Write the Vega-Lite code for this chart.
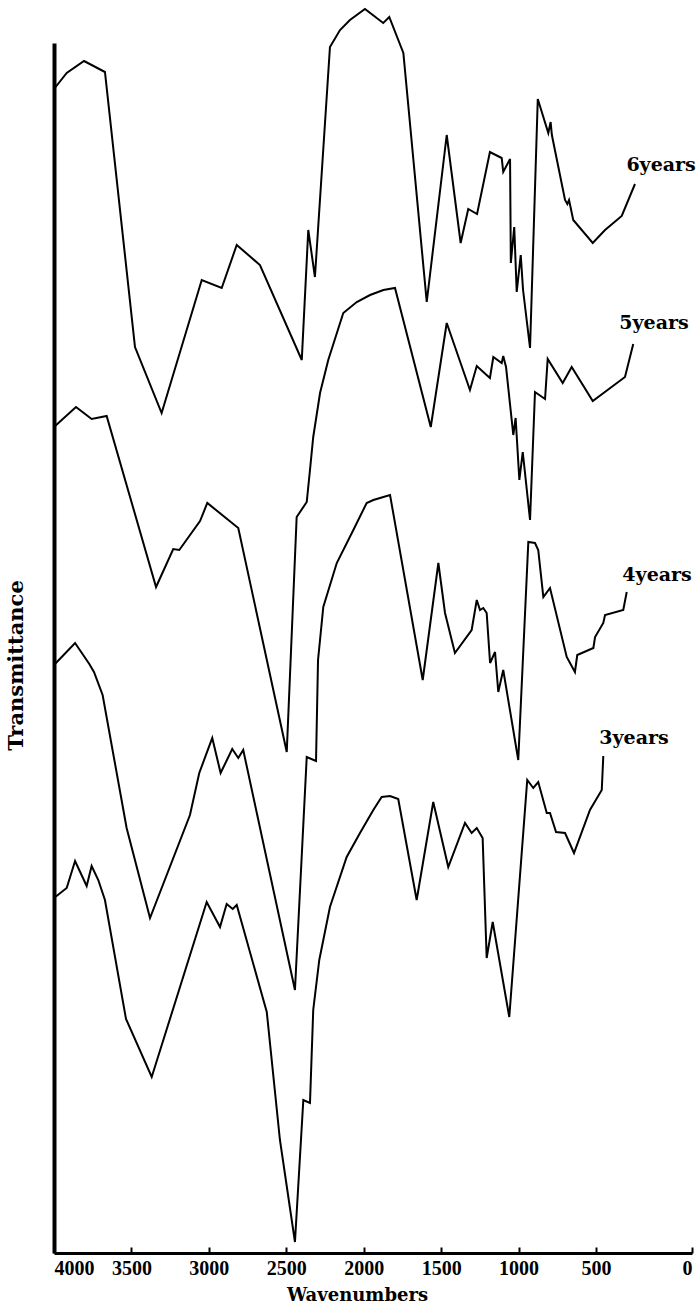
{
  "$schema": "https://vega.github.io/schema/vega-lite/v6.json",
  "width": 638,
  "height": 1210,
  "autosize": {"type": "none"},
  "padding": {"left": 54, "top": 43, "right": 7, "bottom": 52},
  "background": "white",
  "config": {"view": {"stroke": null}},
  "datasets": {
    "spectra": [
      {"series": "6years", "wavenumber": 4000, "transmittance": 1164},
      {"series": "6years", "wavenumber": 3918, "transmittance": 1180},
      {"series": "6years", "wavenumber": 3806, "transmittance": 1192},
      {"series": "6years", "wavenumber": 3671, "transmittance": 1181},
      {"series": "6years", "wavenumber": 3477, "transmittance": 906},
      {"series": "6years", "wavenumber": 3305, "transmittance": 840},
      {"series": "6years", "wavenumber": 3046, "transmittance": 973},
      {"series": "6years", "wavenumber": 2917, "transmittance": 965},
      {"series": "6years", "wavenumber": 2820, "transmittance": 1008},
      {"series": "6years", "wavenumber": 2670, "transmittance": 988},
      {"series": "6years", "wavenumber": 2400, "transmittance": 893},
      {"series": "6years", "wavenumber": 2358, "transmittance": 1023},
      {"series": "6years", "wavenumber": 2315, "transmittance": 976},
      {"series": "6years", "wavenumber": 2218, "transmittance": 1206},
      {"series": "6years", "wavenumber": 2153, "transmittance": 1223},
      {"series": "6years", "wavenumber": 2089, "transmittance": 1233},
      {"series": "6years", "wavenumber": 1992, "transmittance": 1244},
      {"series": "6years", "wavenumber": 1874, "transmittance": 1230},
      {"series": "6years", "wavenumber": 1835, "transmittance": 1236},
      {"series": "6years", "wavenumber": 1744, "transmittance": 1200},
      {"series": "6years", "wavenumber": 1593, "transmittance": 951},
      {"series": "6years", "wavenumber": 1464, "transmittance": 1118},
      {"series": "6years", "wavenumber": 1374, "transmittance": 1010},
      {"series": "6years", "wavenumber": 1325, "transmittance": 1044},
      {"series": "6years", "wavenumber": 1268, "transmittance": 1039},
      {"series": "6years", "wavenumber": 1185, "transmittance": 1101},
      {"series": "6years", "wavenumber": 1109, "transmittance": 1095},
      {"series": "6years", "wavenumber": 1099, "transmittance": 1081},
      {"series": "6years", "wavenumber": 1055, "transmittance": 1094},
      {"series": "6years", "wavenumber": 1050, "transmittance": 990},
      {"series": "6years", "wavenumber": 1028, "transmittance": 1026},
      {"series": "6years", "wavenumber": 1012, "transmittance": 961},
      {"series": "6years", "wavenumber": 986, "transmittance": 998},
      {"series": "6years", "wavenumber": 971, "transmittance": 963},
      {"series": "6years", "wavenumber": 926, "transmittance": 905},
      {"series": "6years", "wavenumber": 876, "transmittance": 1154},
      {"series": "6years", "wavenumber": 808, "transmittance": 1120},
      {"series": "6years", "wavenumber": 793, "transmittance": 1131},
      {"series": "6years", "wavenumber": 785, "transmittance": 1118},
      {"series": "6years", "wavenumber": 700, "transmittance": 1053},
      {"series": "6years", "wavenumber": 685, "transmittance": 1049},
      {"series": "6years", "wavenumber": 674, "transmittance": 1053},
      {"series": "6years", "wavenumber": 647, "transmittance": 1033},
      {"series": "6years", "wavenumber": 521, "transmittance": 1010},
      {"series": "6years", "wavenumber": 453, "transmittance": 1023},
      {"series": "6years", "wavenumber": 366, "transmittance": 1037},
      {"series": "6years", "wavenumber": 297, "transmittance": 1069},

      {"series": "5years", "wavenumber": 4000, "transmittance": 826},
      {"series": "5years", "wavenumber": 3858, "transmittance": 846},
      {"series": "5years", "wavenumber": 3757, "transmittance": 834},
      {"series": "5years", "wavenumber": 3660, "transmittance": 837},
      {"series": "5years", "wavenumber": 3341, "transmittance": 666},
      {"series": "5years", "wavenumber": 3230, "transmittance": 704},
      {"series": "5years", "wavenumber": 3191, "transmittance": 703},
      {"series": "5years", "wavenumber": 3057, "transmittance": 732},
      {"series": "5years", "wavenumber": 3010, "transmittance": 750},
      {"series": "5years", "wavenumber": 2810, "transmittance": 725},
      {"series": "5years", "wavenumber": 2497, "transmittance": 501},
      {"series": "5years", "wavenumber": 2433, "transmittance": 736},
      {"series": "5years", "wavenumber": 2368, "transmittance": 751},
      {"series": "5years", "wavenumber": 2347, "transmittance": 783},
      {"series": "5years", "wavenumber": 2326, "transmittance": 816},
      {"series": "5years", "wavenumber": 2282, "transmittance": 860},
      {"series": "5years", "wavenumber": 2229, "transmittance": 893},
      {"series": "5years", "wavenumber": 2132, "transmittance": 940},
      {"series": "5years", "wavenumber": 2045, "transmittance": 951},
      {"series": "5years", "wavenumber": 1959, "transmittance": 958},
      {"series": "5years", "wavenumber": 1873, "transmittance": 963},
      {"series": "5years", "wavenumber": 1798, "transmittance": 965},
      {"series": "5years", "wavenumber": 1567, "transmittance": 826},
      {"series": "5years", "wavenumber": 1464, "transmittance": 930},
      {"series": "5years", "wavenumber": 1314, "transmittance": 863},
      {"series": "5years", "wavenumber": 1270, "transmittance": 887},
      {"series": "5years", "wavenumber": 1185, "transmittance": 875},
      {"series": "5years", "wavenumber": 1163, "transmittance": 896},
      {"series": "5years", "wavenumber": 1109, "transmittance": 890},
      {"series": "5years", "wavenumber": 1099, "transmittance": 897},
      {"series": "5years", "wavenumber": 1081, "transmittance": 886},
      {"series": "5years", "wavenumber": 1034, "transmittance": 818},
      {"series": "5years", "wavenumber": 1019, "transmittance": 835},
      {"series": "5years", "wavenumber": 995, "transmittance": 773},
      {"series": "5years", "wavenumber": 973, "transmittance": 801},
      {"series": "5years", "wavenumber": 926, "transmittance": 733},
      {"series": "5years", "wavenumber": 894, "transmittance": 861},
      {"series": "5years", "wavenumber": 829, "transmittance": 854},
      {"series": "5years", "wavenumber": 812, "transmittance": 894},
      {"series": "5years", "wavenumber": 715, "transmittance": 870},
      {"series": "5years", "wavenumber": 657, "transmittance": 886},
      {"series": "5years", "wavenumber": 521, "transmittance": 852},
      {"series": "5years", "wavenumber": 349, "transmittance": 876},
      {"series": "5years", "wavenumber": 306, "transmittance": 909},

      {"series": "4years", "wavenumber": 4000, "transmittance": 588},
      {"series": "4years", "wavenumber": 3864, "transmittance": 610},
      {"series": "4years", "wavenumber": 3772, "transmittance": 589},
      {"series": "4years", "wavenumber": 3742, "transmittance": 581},
      {"series": "4years", "wavenumber": 3686, "transmittance": 558},
      {"series": "4years", "wavenumber": 3531, "transmittance": 425},
      {"series": "4years", "wavenumber": 3380, "transmittance": 335},
      {"series": "4years", "wavenumber": 3122, "transmittance": 438},
      {"series": "4years", "wavenumber": 3062, "transmittance": 480},
      {"series": "4years", "wavenumber": 2978, "transmittance": 515},
      {"series": "4years", "wavenumber": 2924, "transmittance": 480},
      {"series": "4years", "wavenumber": 2849, "transmittance": 504},
      {"series": "4years", "wavenumber": 2810, "transmittance": 495},
      {"series": "4years", "wavenumber": 2778, "transmittance": 503},
      {"series": "4years", "wavenumber": 2444, "transmittance": 263},
      {"series": "4years", "wavenumber": 2368, "transmittance": 496},
      {"series": "4years", "wavenumber": 2308, "transmittance": 492},
      {"series": "4years", "wavenumber": 2295, "transmittance": 593},
      {"series": "4years", "wavenumber": 2261, "transmittance": 646},
      {"series": "4years", "wavenumber": 2174, "transmittance": 690},
      {"series": "4years", "wavenumber": 2067, "transmittance": 723},
      {"series": "4years", "wavenumber": 1981, "transmittance": 750},
      {"series": "4years", "wavenumber": 1938, "transmittance": 753},
      {"series": "4years", "wavenumber": 1830, "transmittance": 758},
      {"series": "4years", "wavenumber": 1619, "transmittance": 573},
      {"series": "4years", "wavenumber": 1518, "transmittance": 690},
      {"series": "4years", "wavenumber": 1475, "transmittance": 640},
      {"series": "4years", "wavenumber": 1411, "transmittance": 600},
      {"series": "4years", "wavenumber": 1303, "transmittance": 623},
      {"series": "4years", "wavenumber": 1270, "transmittance": 653},
      {"series": "4years", "wavenumber": 1249, "transmittance": 643},
      {"series": "4years", "wavenumber": 1228, "transmittance": 645},
      {"series": "4years", "wavenumber": 1206, "transmittance": 640},
      {"series": "4years", "wavenumber": 1184, "transmittance": 590},
      {"series": "4years", "wavenumber": 1152, "transmittance": 601},
      {"series": "4years", "wavenumber": 1131, "transmittance": 561},
      {"series": "4years", "wavenumber": 1099, "transmittance": 583},
      {"series": "4years", "wavenumber": 1002, "transmittance": 493},
      {"series": "4years", "wavenumber": 937, "transmittance": 711},
      {"series": "4years", "wavenumber": 894, "transmittance": 710},
      {"series": "4years", "wavenumber": 873, "transmittance": 703},
      {"series": "4years", "wavenumber": 840, "transmittance": 656},
      {"series": "4years", "wavenumber": 797, "transmittance": 665},
      {"series": "4years", "wavenumber": 689, "transmittance": 596},
      {"series": "4years", "wavenumber": 636, "transmittance": 581},
      {"series": "4years", "wavenumber": 621, "transmittance": 598},
      {"series": "4years", "wavenumber": 517, "transmittance": 605},
      {"series": "4years", "wavenumber": 506, "transmittance": 616},
      {"series": "4years", "wavenumber": 462, "transmittance": 630},
      {"series": "4years", "wavenumber": 453, "transmittance": 638},
      {"series": "4years", "wavenumber": 358, "transmittance": 643},
      {"series": "4years", "wavenumber": 340, "transmittance": 661},

      {"series": "3years", "wavenumber": 4000, "transmittance": 355},
      {"series": "3years", "wavenumber": 3918, "transmittance": 365},
      {"series": "3years", "wavenumber": 3864, "transmittance": 392},
      {"series": "3years", "wavenumber": 3789, "transmittance": 367},
      {"series": "3years", "wavenumber": 3757, "transmittance": 387},
      {"series": "3years", "wavenumber": 3714, "transmittance": 373},
      {"series": "3years", "wavenumber": 3671, "transmittance": 353},
      {"series": "3years", "wavenumber": 3535, "transmittance": 234},
      {"series": "3years", "wavenumber": 3369, "transmittance": 176},
      {"series": "3years", "wavenumber": 3014, "transmittance": 351},
      {"series": "3years", "wavenumber": 2928, "transmittance": 326},
      {"series": "3years", "wavenumber": 2885, "transmittance": 349},
      {"series": "3years", "wavenumber": 2846, "transmittance": 344},
      {"series": "3years", "wavenumber": 2820, "transmittance": 348},
      {"series": "3years", "wavenumber": 2626, "transmittance": 241},
      {"series": "3years", "wavenumber": 2541, "transmittance": 113},
      {"series": "3years", "wavenumber": 2444, "transmittance": 11},
      {"series": "3years", "wavenumber": 2390, "transmittance": 153},
      {"series": "3years", "wavenumber": 2347, "transmittance": 150},
      {"series": "3years", "wavenumber": 2326, "transmittance": 243},
      {"series": "3years", "wavenumber": 2287, "transmittance": 293},
      {"series": "3years", "wavenumber": 2218, "transmittance": 346},
      {"series": "3years", "wavenumber": 2110, "transmittance": 396},
      {"series": "3years", "wavenumber": 2024, "transmittance": 420},
      {"series": "3years", "wavenumber": 1938, "transmittance": 443},
      {"series": "3years", "wavenumber": 1884, "transmittance": 456},
      {"series": "3years", "wavenumber": 1830, "transmittance": 457},
      {"series": "3years", "wavenumber": 1777, "transmittance": 454},
      {"series": "3years", "wavenumber": 1658, "transmittance": 353},
      {"series": "3years", "wavenumber": 1551, "transmittance": 451},
      {"series": "3years", "wavenumber": 1454, "transmittance": 386},
      {"series": "3years", "wavenumber": 1346, "transmittance": 430},
      {"series": "3years", "wavenumber": 1303, "transmittance": 420},
      {"series": "3years", "wavenumber": 1270, "transmittance": 425},
      {"series": "3years", "wavenumber": 1232, "transmittance": 415},
      {"series": "3years", "wavenumber": 1206, "transmittance": 295},
      {"series": "3years", "wavenumber": 1167, "transmittance": 331},
      {"series": "3years", "wavenumber": 1060, "transmittance": 236},
      {"series": "3years", "wavenumber": 944, "transmittance": 473},
      {"series": "3years", "wavenumber": 905, "transmittance": 465},
      {"series": "3years", "wavenumber": 873, "transmittance": 471},
      {"series": "3years", "wavenumber": 818, "transmittance": 440},
      {"series": "3years", "wavenumber": 797, "transmittance": 440},
      {"series": "3years", "wavenumber": 758, "transmittance": 421},
      {"series": "3years", "wavenumber": 700, "transmittance": 420},
      {"series": "3years", "wavenumber": 642, "transmittance": 400},
      {"series": "3years", "wavenumber": 539, "transmittance": 443},
      {"series": "3years", "wavenumber": 470, "transmittance": 463},
      {"series": "3years", "wavenumber": 462, "transmittance": 497}
    ],
    "labels": [
      {"series": "6years", "wavenumber": 161, "transmittance": 1088},
      {"series": "5years", "wavenumber": 198, "transmittance": 930},
      {"series": "4years", "wavenumber": 182, "transmittance": 678},
      {"series": "3years", "wavenumber": 302, "transmittance": 515}
    ]
  },
  "layer": [
    {
      "data": {"name": "spectra"},
      "mark": {"type": "line", "color": "black", "strokeWidth": 2, "clip": false},
      "encoding": {
        "x": {
          "field": "wavenumber",
          "type": "quantitative",
          "scale": {"domain": [4000, 500, 0], "range": [0, 542, 638], "nice": false, "zero": false},
          "axis": {
            "values": [4000, 3500, 3000, 2500, 2000, 1500, 1000, 500, 0],
            "format": "d",
            "grid": false,
            "domainColor": "black",
            "domainWidth": 3,
            "tickColor": "black",
            "tickWidth": 2,
            "tickSize": -6,
            "labelFont": "Liberation Serif",
            "labelFontSize": 20,
            "labelFontWeight": "bold",
            "labelColor": "black",
            "labelFlush": true,
            "labelOverlap": false,
            "labelPadding": 11,
            "title": "Wavenumbers",
            "titleFont": "DejaVu Serif",
            "titleFontWeight": "bold",
            "titleFontSize": 18,
            "titleColor": "black",
            "titleX": 303,
            "titleY": 47,
            "titleBaseline": "alphabetic"
          }
        },
        "y": {
          "field": "transmittance",
          "type": "quantitative",
          "scale": {"domain": [0, 1210], "nice": false, "zero": false},
          "axis": {
            "ticks": false,
            "labels": false,
            "grid": false,
            "domainColor": "black",
            "domainWidth": 4,
            "title": "Transmittance",
            "titleFont": "DejaVu Serif",
            "titleFontWeight": "bold",
            "titleFontSize": 21,
            "titleColor": "black",
            "titlePadding": 28,
            "titleY": 622
          }
        },
        "detail": {"field": "series"}
      }
    },
    {
      "data": {"name": "labels"},
      "mark": {"type": "text", "font": "DejaVu Serif", "fontWeight": "bold", "fontSize": 19, "align": "center", "baseline": "middle", "color": "black", "clip": false},
      "encoding": {
        "x": {"field": "wavenumber", "type": "quantitative"},
        "y": {"field": "transmittance", "type": "quantitative"},
        "text": {"field": "series"}
      }
    }
  ]
}
